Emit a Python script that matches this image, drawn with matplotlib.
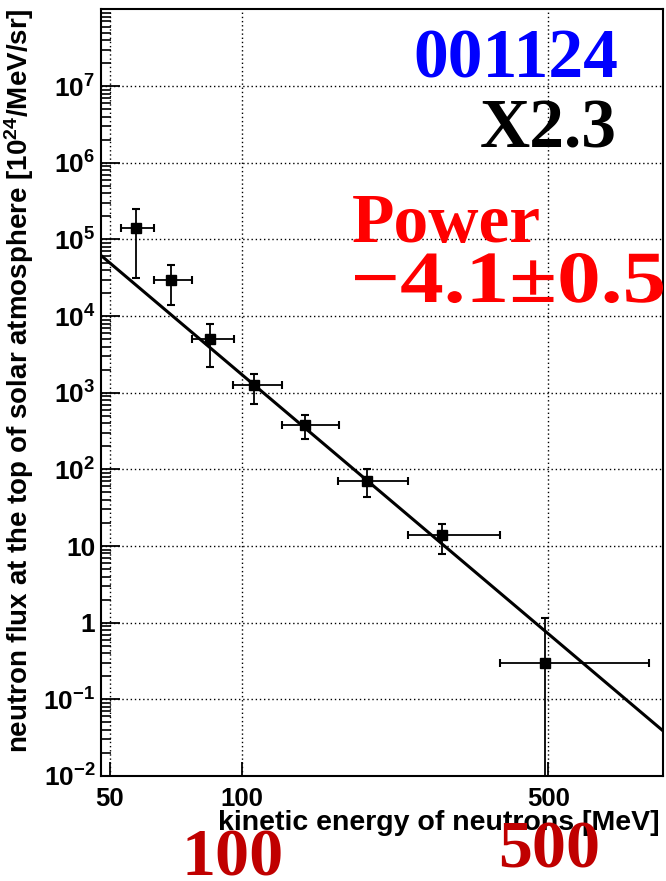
import matplotlib
matplotlib.use("Agg")
import matplotlib.pyplot as plt
import numpy as np
from matplotlib.ticker import FixedLocator, NullFormatter, LogLocator
from matplotlib.textpath import TextPath
from matplotlib.patches import PathPatch
from matplotlib.font_manager import FontProperties
from matplotlib.transforms import Affine2D, IdentityTransform

# neutron spectrum points (energy in MeV, flux in 10^24/MeV/sr)
energy = [57.4, 69.0, 84.7, 106.7, 139.4, 193.0, 286.0, 491.7]
energy_lo = [53.1, 63.1, 77.1, 95.5, 123.6, 165.8, 239.0, 388.0]
energy_hi = [63.1, 77.1, 96.0, 123.6, 166.7, 239.0, 388.0, 848.0]
flux = [1.39e5, 3.0e4, 5.0e3, 1.27e3, 3.8e2, 70.0, 13.9, 0.30]
flux_lo = [3.1e4, 1.38e4, 2.2e3, 7.2e2, 2.5e2, 43.0, 7.9, 1e-4]
flux_hi = [2.46e5, 4.6e4, 7.9e3, 1.77e3, 5.2e2, 100.0, 19.4, 1.16]

# power-law fit drawn across the plot
fit_norm = 1.73e3  # flux at 100 MeV
fit_index = -4.84
x_range = [47.76, 913.0]
y_range = [1e-2, 1e8]

x_ticks = [50, 100, 500]
x_ticklabels = ["50", "100", "500"]
y_ticks = [1e-2, 1e-1, 1, 10, 1e2, 1e3, 1e4, 1e5, 1e6, 1e7]
y_ticklabels = [r"$10^{-2}$", r"$10^{-1}$", "1", "10", r"$10^{2}$", r"$10^{3}$",
                r"$10^{4}$", r"$10^{5}$", r"$10^{6}$", r"$10^{7}$"]

plt.rcParams["font.family"] = ["Liberation Sans", "DejaVu Sans"]
plt.rcParams["font.weight"] = "bold"
plt.rcParams["mathtext.fontset"] = "custom"
plt.rcParams["mathtext.rm"] = "Liberation Sans:bold"
plt.rcParams["mathtext.it"] = "Liberation Sans:bold"
plt.rcParams["mathtext.bf"] = "Liberation Sans:bold"
plt.rcParams["mathtext.default"] = "rm"

W, H = 666, 881
fig = plt.figure(figsize=(W / 100, H / 100), dpi=100)
ax = fig.add_axes([101 / W, 1 - 776 / H, 562 / W, 766.5 / H])
ax.set_xscale("log")
ax.set_yscale("log")
ax.set_xlim(x_range)
ax.set_ylim(y_range)

e = np.array(energy)
f = np.array(flux)
xerr = [e - np.array(energy_lo), np.array(energy_hi) - e]
yerr = [f - np.array(flux_lo), np.array(flux_hi) - f]
ax.errorbar(e, f, xerr=xerr, yerr=yerr, fmt="s", color="black", ms=6.5,
            elinewidth=1.3, capsize=3.2, capthick=1.5, zorder=4)

xf = np.array(x_range)
ax.plot(xf, fit_norm * (xf / 100.0) ** fit_index, color="black", lw=2.2, zorder=3)

ax.xaxis.set_major_locator(FixedLocator(x_ticks))
ax.set_xticklabels(x_ticklabels)
ax.xaxis.set_minor_formatter(NullFormatter())
ax.xaxis.set_minor_locator(FixedLocator([]))
ax.yaxis.set_major_locator(FixedLocator(y_ticks))
ax.set_yticklabels(y_ticklabels)
ax.yaxis.set_minor_locator(LogLocator(base=10, subs=np.arange(2, 10), numticks=30))
ax.yaxis.set_minor_formatter(NullFormatter())

ax.tick_params(axis="both", which="major", direction="in", width=1.3)
ax.tick_params(axis="y", which="major", length=14, pad=4, labelsize=19)
ax.tick_params(axis="x", which="major", length=10, pad=8, labelsize=18.5)
ax.tick_params(axis="y", which="minor", direction="in", length=7, width=1.2)

ax.grid(True, which="major", color="black", ls=(0, (1, 2)), lw=1.0)
for s in ax.spines.values():
    s.set_linewidth(1.5)

fig.text(660 / W, 1 - 830 / H, "kinetic energy of neutrons [MeV]",
         ha="right", va="baseline", fontsize=20.5, fontweight="bold")
fig.text(19 / W, 1 - 381 / H,
         r"neutron flux at the top of solar atmosphere [10$^{24}$/MeV/sr]",
         rotation=90, ha="center", va="center", fontsize=20, fontweight="bold")

serif = ["Liberation Serif", "DejaVu Serif"]
fig.text(618 / W, 1 - 77 / H, "001124", ha="right", va="baseline",
         fontsize=50, fontweight="bold", color="#0000ff", family=serif)
fig.text(617 / W, 1 - 148 / H, "X2.3", ha="right", va="baseline",
         fontsize=50, fontweight="bold", color="black", family=serif)
fig.text(352 / W, 1 - 242 / H, "Power", ha="left", va="baseline",
         fontsize=50, fontweight="bold", color="#ff0000", family=serif)
fig.text(233 / W, 1 - 876 / H, "100", ha="center", va="baseline",
         fontsize=49, fontweight="bold", color="#c00000", family=serif)
fig.text(549 / W, 1 - 867 / H, "500", ha="center", va="baseline",
         fontsize=49, fontweight="bold", color="#c00000", family=serif)

# the index line is set in a wider face in the original, so stretch it
tp = TextPath((0, 0), "\u22124.1\u00b10.5", size=1,
              prop=FontProperties(family="Liberation Serif", weight="bold"))
ext = tp.get_extents()
sx = (663 - 355) / ext.width
sy = 49 / ext.y1
tr = Affine2D().translate(-ext.x0, 0).scale(sx, sy).translate(355, H - 302)
fig.add_artist(PathPatch(tp, transform=tr + IdentityTransform(),
                         facecolor="#ff0000", edgecolor="none"))

fig.savefig("out.png", dpi=100)
